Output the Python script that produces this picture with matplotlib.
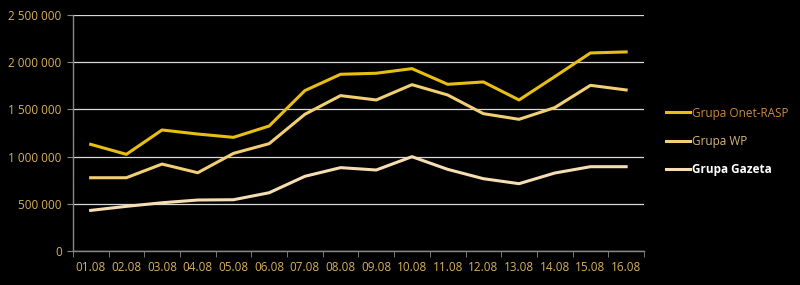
import matplotlib
matplotlib.use("Agg")
from matplotlib import pyplot as plt
from matplotlib.ticker import FuncFormatter, MultipleLocator
import numpy as np

dates = ["01.08", "02.08", "03.08", "04.08", "05.08", "06.08", "07.08", "08.08",
         "09.08", "10.08", "11.08", "12.08", "13.08", "14.08", "15.08", "16.08"]
onet = [1131000, 1025000, 1283000, 1240000, 1205000, 1325000, 1700000, 1873000,
        1884000, 1933000, 1767000, 1792000, 1601000, 1848000, 2099000, 2110000]
wp = [777000, 777000, 922000, 830000, 1035000, 1138000, 1449000, 1647000,
      1601000, 1763000, 1654000, 1456000, 1396000, 1520000, 1756000, 1707000]
gazeta = [431000, 474000, 512000, 541000, 544000, 618000, 792000, 884000,
          859000, 1000000, 866000, 767000, 714000, 827000, 894000, 894000]

plt.rcParams['font.family'] = ['Open Sans', 'DejaVu Sans']

fig = plt.figure(figsize=(8, 2.85), dpi=100, facecolor='black')
ax = fig.add_axes([0.091, 0.119, 0.714, 0.828], facecolor='black')

x = np.arange(len(dates))
ax.plot(x, onet, color='#E8BE14', lw=2.2, label='Grupa Onet-RASP', zorder=3)
ax.plot(x, wp, color='#F2CF72', lw=2.2, label='Grupa WP', zorder=3)
ax.plot(x, gazeta, color='#F6DEB2', lw=2.2, label='Grupa Gazeta', zorder=3)

ax.set_xlim(-0.5, len(dates) - 0.5)
ax.set_ylim(0, 2500000)
ax.yaxis.set_major_locator(MultipleLocator(500000))
ax.yaxis.set_major_formatter(FuncFormatter(lambda v, p: f"{int(v):,}".replace(",", " ")))
ax.grid(axis='y', color='#D8D8D8', lw=0.9, zorder=1)

ax.set_xticks(x)
ax.set_xticklabels(dates)
ax.set_xticks(np.arange(-0.5, len(dates)), minor=True)
ax.tick_params(axis='x', which='major', length=0, pad=7, labelsize=8.5, labelcolor='#D9B05A')
ax.tick_params(axis='x', which='minor', length=4, color='#888888', direction='out')
ax.tick_params(axis='y', length=4, color='#888888', labelsize=8.5, labelcolor='#D9B05A', pad=4)

for s in ['top', 'right']:
    ax.spines[s].set_visible(False)
for s in ['left', 'bottom']:
    ax.spines[s].set_color('#888888')
    ax.spines[s].set_linewidth(1)

leg = ax.legend(loc='center left', bbox_to_anchor=(1.02, 0.465), frameon=False,
                fontsize=8.5, handlelength=2.0, handletextpad=0.2, labelspacing=1.3)
text_colors = ['#D08A3A', '#D8B878', '#FFFFFF']
for t, c in zip(leg.get_texts(), text_colors):
    t.set_color(c)
leg.get_texts()[2].set_fontweight('bold')

fig.savefig("out.png", dpi=100, facecolor='black')
